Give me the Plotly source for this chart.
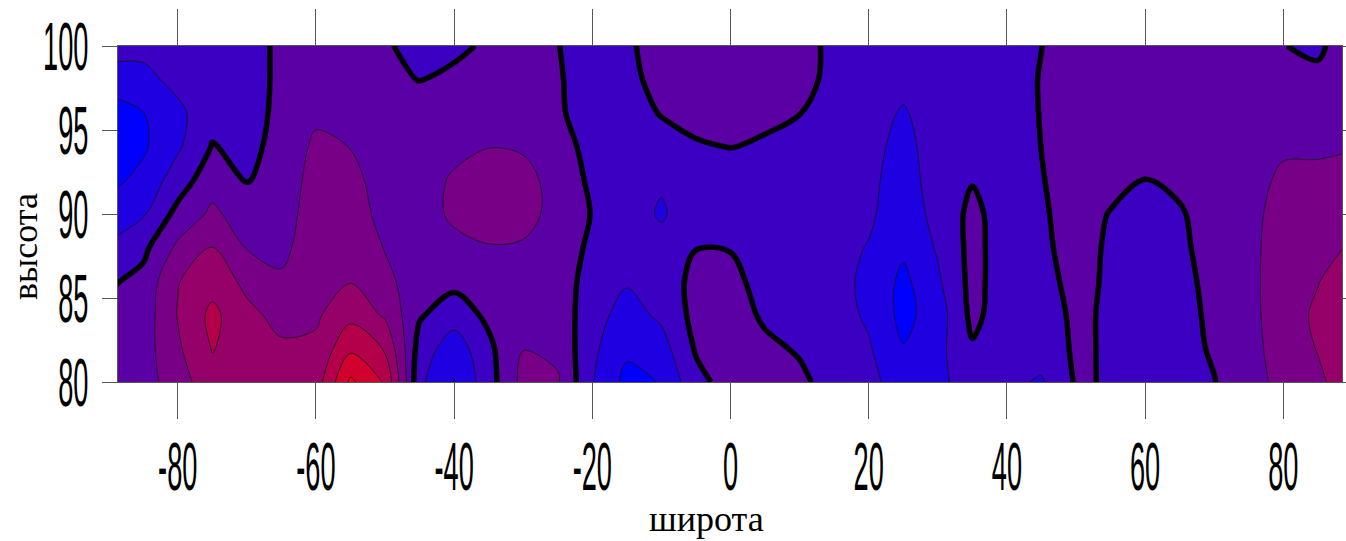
import plotly.graph_objects as go

# latitude grid (degrees) and altitude grid (km)
latitude = [-90, -85, -80, -75, -70, -65, -60, -55, -50, -45, -40, -35, -30, -25, -20,
            -15, -10, -5, 0, 5, 10, 15, 20, 25, 30, 35, 40, 45, 50, 55, 60, 65, 70,
            75, 80, 85, 90]
altitude = [80, 82, 84, 86, 88, 90, 92, 94, 96, 98, 100]

# field values, one row per altitude (columns follow `latitude`)
z_alt80 = [3.6, 3.6, 4.5, 5.7, 5.6, 5.4, 5.5, 8.2, 6.9, 2.2, 0.95, 2.6, 4.3, 4.1, 2.05,
           0.7, 1.05, 2.7, 3.4, 3.4, 3.2, 2.6, 2.4, 1.3, 1.7, 2.6, 2.2, 1.9, 3.1,
           2.93, 2.7, 2.75, 2.97, 3.6, 4.3, 4.8, 5.6]
z_alt82 = [3.45, 3.55, 4.85, 6.05, 5.5, 5.15, 5.2, 6.8, 5.9, 2.6, 1.4, 2.8, 3.98, 3.8, 2.2,
           1.2, 1.6, 3.1, 3.5, 3.2, 2.9, 2.55, 2.1, 1.05, 1.7, 2.9, 2.35, 2.4, 3.15,
           2.89, 2.6, 2.7, 3.1, 3.7, 4.4, 5.05, 5.8]
z_alt84 = [3.3, 3.45, 5.05, 6.25, 5.25, 4.7, 4.85, 5.7, 4.85, 3.1, 2.5, 3.2, 3.6, 3.6, 2.4,
           1.6, 2.2, 3.3, 3.45, 2.85, 2.6, 2.4, 1.85, 0.7, 1.5, 3.25, 2.45, 2.5, 3.2,
           2.85, 2.55, 2.75, 3.15, 3.75, 4.45, 5.2, 5.9]
z_alt86 = [2.85, 3.3, 4.95, 5.6, 4.75, 4.15, 4.7, 4.95, 4.3, 3.35, 3.25, 3.5, 3.6, 3.5, 2.6,
           2.1, 2.5, 3.25, 3.3, 2.6, 2.45, 2.3, 1.8, 0.75, 1.85, 3.3, 2.5, 2.67, 3.3,
           2.85, 2.5, 2.75, 3.25, 3.75, 4.5, 4.95, 5.7]
z_alt88 = [2.15, 2.75, 4.2, 5.05, 3.95, 3.75, 4.6, 4.6, 3.95, 3.45, 3.7, 3.95, 3.9, 3.55, 2.8,
           2.4, 2.3, 2.98, 2.95, 2.5, 2.4, 2.3, 1.95, 1.2, 2.1, 3.3, 2.5, 2.79, 3.4,
           2.85, 2.5, 2.8, 3.4, 3.75, 4.45, 4.7, 5.1]
z_alt90 = [1.45, 1.9, 3.3, 4.2, 3.5, 3.55, 4.5, 4.45, 3.7, 3.5, 4.2, 4.4, 4.3, 3.7, 2.95,
           2.4, 1.9, 2.5, 2.5, 2.45, 2.4, 2.3, 2.15, 1.45, 2.3, 3.25, 2.5, 2.86, 3.45,
           2.95, 2.6, 2.9, 3.45, 3.7, 4.4, 4.5, 4.7]
z_alt92 = [0.7, 1.3, 2.5, 3.6, 2.95, 3.4, 4.4, 4.3, 3.55, 3.5, 4.15, 4.45, 4.3, 3.65, 2.8,
           2.45, 2.1, 2.6, 2.7, 2.5, 2.45, 2.3, 2.2, 1.6, 2.4, 2.95, 2.5, 2.95, 3.45,
           3.3, 2.99, 3.2, 3.5, 3.6, 4.2, 4.25, 4.35]
z_alt94 = [0.4, 0.85, 1.85, 3.05, 2.75, 3.3, 4.2, 3.98, 3.45, 3.4, 3.7, 3.98, 3.9, 3.5, 2.6,
           2.5, 2.6, 2.9, 3.02, 2.85, 2.6, 2.4, 2.3, 1.7, 2.45, 2.7, 2.5, 3.01, 3.45,
           3.4, 3.3, 3.35, 3.5, 3.5, 3.85, 3.85, 3.95]
z_alt96 = [0.7, 0.98, 1.75, 2.7, 2.6, 3.25, 3.8, 3.6, 3.35, 3.25, 3.35, 3.6, 3.6, 3.15, 2.5,
           2.6, 3.05, 3.3, 3.45, 3.25, 3.02, 2.6, 2.4, 1.9, 2.5, 2.6, 2.55, 3.04, 3.45,
           3.45, 3.4, 3.4, 3.5, 3.45, 3.5, 3.4, 3.6]
z_alt98 = [1.3, 1.7, 2.3, 2.6, 2.6, 3.2, 3.5, 3.4, 3.2, 2.98, 3.15, 3.4, 3.4, 3.1, 2.5,
           2.75, 3.3, 3.5, 3.65, 3.5, 3.3, 2.75, 2.5, 2.3, 2.55, 2.6, 2.6, 3.05, 3.45,
           3.45, 3.45, 3.45, 3.5, 3.4, 3.3, 3.2, 3.4]
z_alt100 = [2.7, 2.3, 2.7, 2.6, 2.6, 3.2, 3.4, 3.35, 3.1, 2.7, 2.85, 3.1, 3.3, 3.03, 2.5,
            2.85, 3.4, 3.55, 3.7, 3.55, 3.3, 2.8, 2.5, 2.5, 2.55, 2.6, 2.65, 2.99, 3.45,
            3.45, 3.45, 3.45, 3.5, 3.35, 3.02, 2.85, 3.5]

z = [z_alt80, z_alt82, z_alt84, z_alt86, z_alt88, z_alt90, z_alt92, z_alt94,
     z_alt96, z_alt98, z_alt100]

level_start, level_end, level_step = 1, 8, 1
zero_level = 3  # bold contour

x_ticks = [-80, -60, -40, -20, 0, 20, 40, 60, 80]
y_ticks = [80, 85, 90, 95, 100]

band_colors = ['rgb(0,0,255)', 'rgb(30,0,225)', 'rgb(60,0,195)', 'rgb(90,0,165)',
               'rgb(120,0,135)', 'rgb(150,0,105)', 'rgb(180,0,75)', 'rgb(210,0,45)',
               'rgb(240,0,15)']
bounds = [0, 0.125, 0.25, 0.375, 0.5, 0.625, 0.75, 0.875, 0.97, 1.0]
colorscale = []
for i, c in enumerate(band_colors):
    colorscale.append([bounds[i], c])
    colorscale.append([bounds[i + 1], c])

fig = go.Figure()
fig.add_trace(go.Contour(
    x=latitude, y=altitude, z=z,
    autocontour=False,
    contours=dict(start=level_start, end=level_end, size=level_step, coloring='fill'),
    colorscale=colorscale,
    showscale=False,
    line=dict(color='#111111', width=0.8, smoothing=1.0),
    hoverinfo='skip',
))
fig.add_trace(go.Contour(
    x=latitude, y=altitude, z=z,
    autocontour=False,
    contours=dict(start=zero_level, end=zero_level, size=1, coloring='none'),
    showscale=False,
    line=dict(color='black', width=5.5, smoothing=1.0),
    hoverinfo='skip',
))

tick_font = dict(family='Liberation Sans, Arial, sans-serif', size=68, color='black')
title_font = dict(family='Liberation Serif, Times New Roman, serif', size=36, color='black')

fig.update_layout(
    width=1346, height=541,
    margin=dict(l=118, r=4, t=46, b=159, autoexpand=False),
    paper_bgcolor='white', plot_bgcolor='white',
    showlegend=False,
    xaxis=dict(range=[-88.65, 88.5], tickvals=x_ticks, ticktext=[str(v) for v in x_ticks],
               ticks='outside', ticklen=36, tickwidth=1, tickcolor='#555555',
               showline=True, linecolor='#555555', linewidth=1, mirror='ticks',
               showgrid=False, zeroline=False, tickfont=tick_font, tickangle=0,
               automargin=False, ticklabelstandoff=-11),
    yaxis=dict(range=[80, 100], tickvals=y_ticks, ticktext=[str(v) for v in y_ticks],
               ticks='outside', ticklen=15, tickwidth=1, tickcolor='#555555',
               showline=True, linecolor='#555555', linewidth=1, mirror='ticks',
               showgrid=False, zeroline=False, tickfont=tick_font, tickangle=0,
               automargin=False),
    annotations=[
        dict(text='широта', xref='paper', yref='paper', x=0.481, y=-0.408,
             xanchor='center', yanchor='middle', showarrow=False, font=title_font),
        dict(text='высота', xref='paper', yref='paper', x=-0.076, y=0.405,
             xanchor='center', yanchor='middle', showarrow=False, textangle=-90,
             font=title_font),
    ],
)

# page margin removal and horizontal condensing of the tick labels (narrow face look)
post_js = """
document.body.style.margin = '0';
document.body.style.overflow = 'hidden';
var gd = document.getElementById('{plot_id}');
function squeezeTicks() {
  var s = 0.40;
  gd.querySelectorAll('g.xtick text, g.ytick text').forEach(function (t) {
    var cur = t.getAttribute('transform') || '';
    if (t.getAttribute('data-sq') === cur) { return; }
    var x = parseFloat(t.getAttribute('x')) || 0;
    var nt = cur + ' translate(' + x + ',0) scale(' + s + ',1) translate(' + (-x) + ',0)';
    t.setAttribute('transform', nt);
    t.setAttribute('data-sq', nt);
  });
}
squeezeTicks();
gd.on('plotly_afterplot', squeezeTicks);
"""

fig.write_html('out.html', post_script=post_js, config={'displayModeBar': False})
